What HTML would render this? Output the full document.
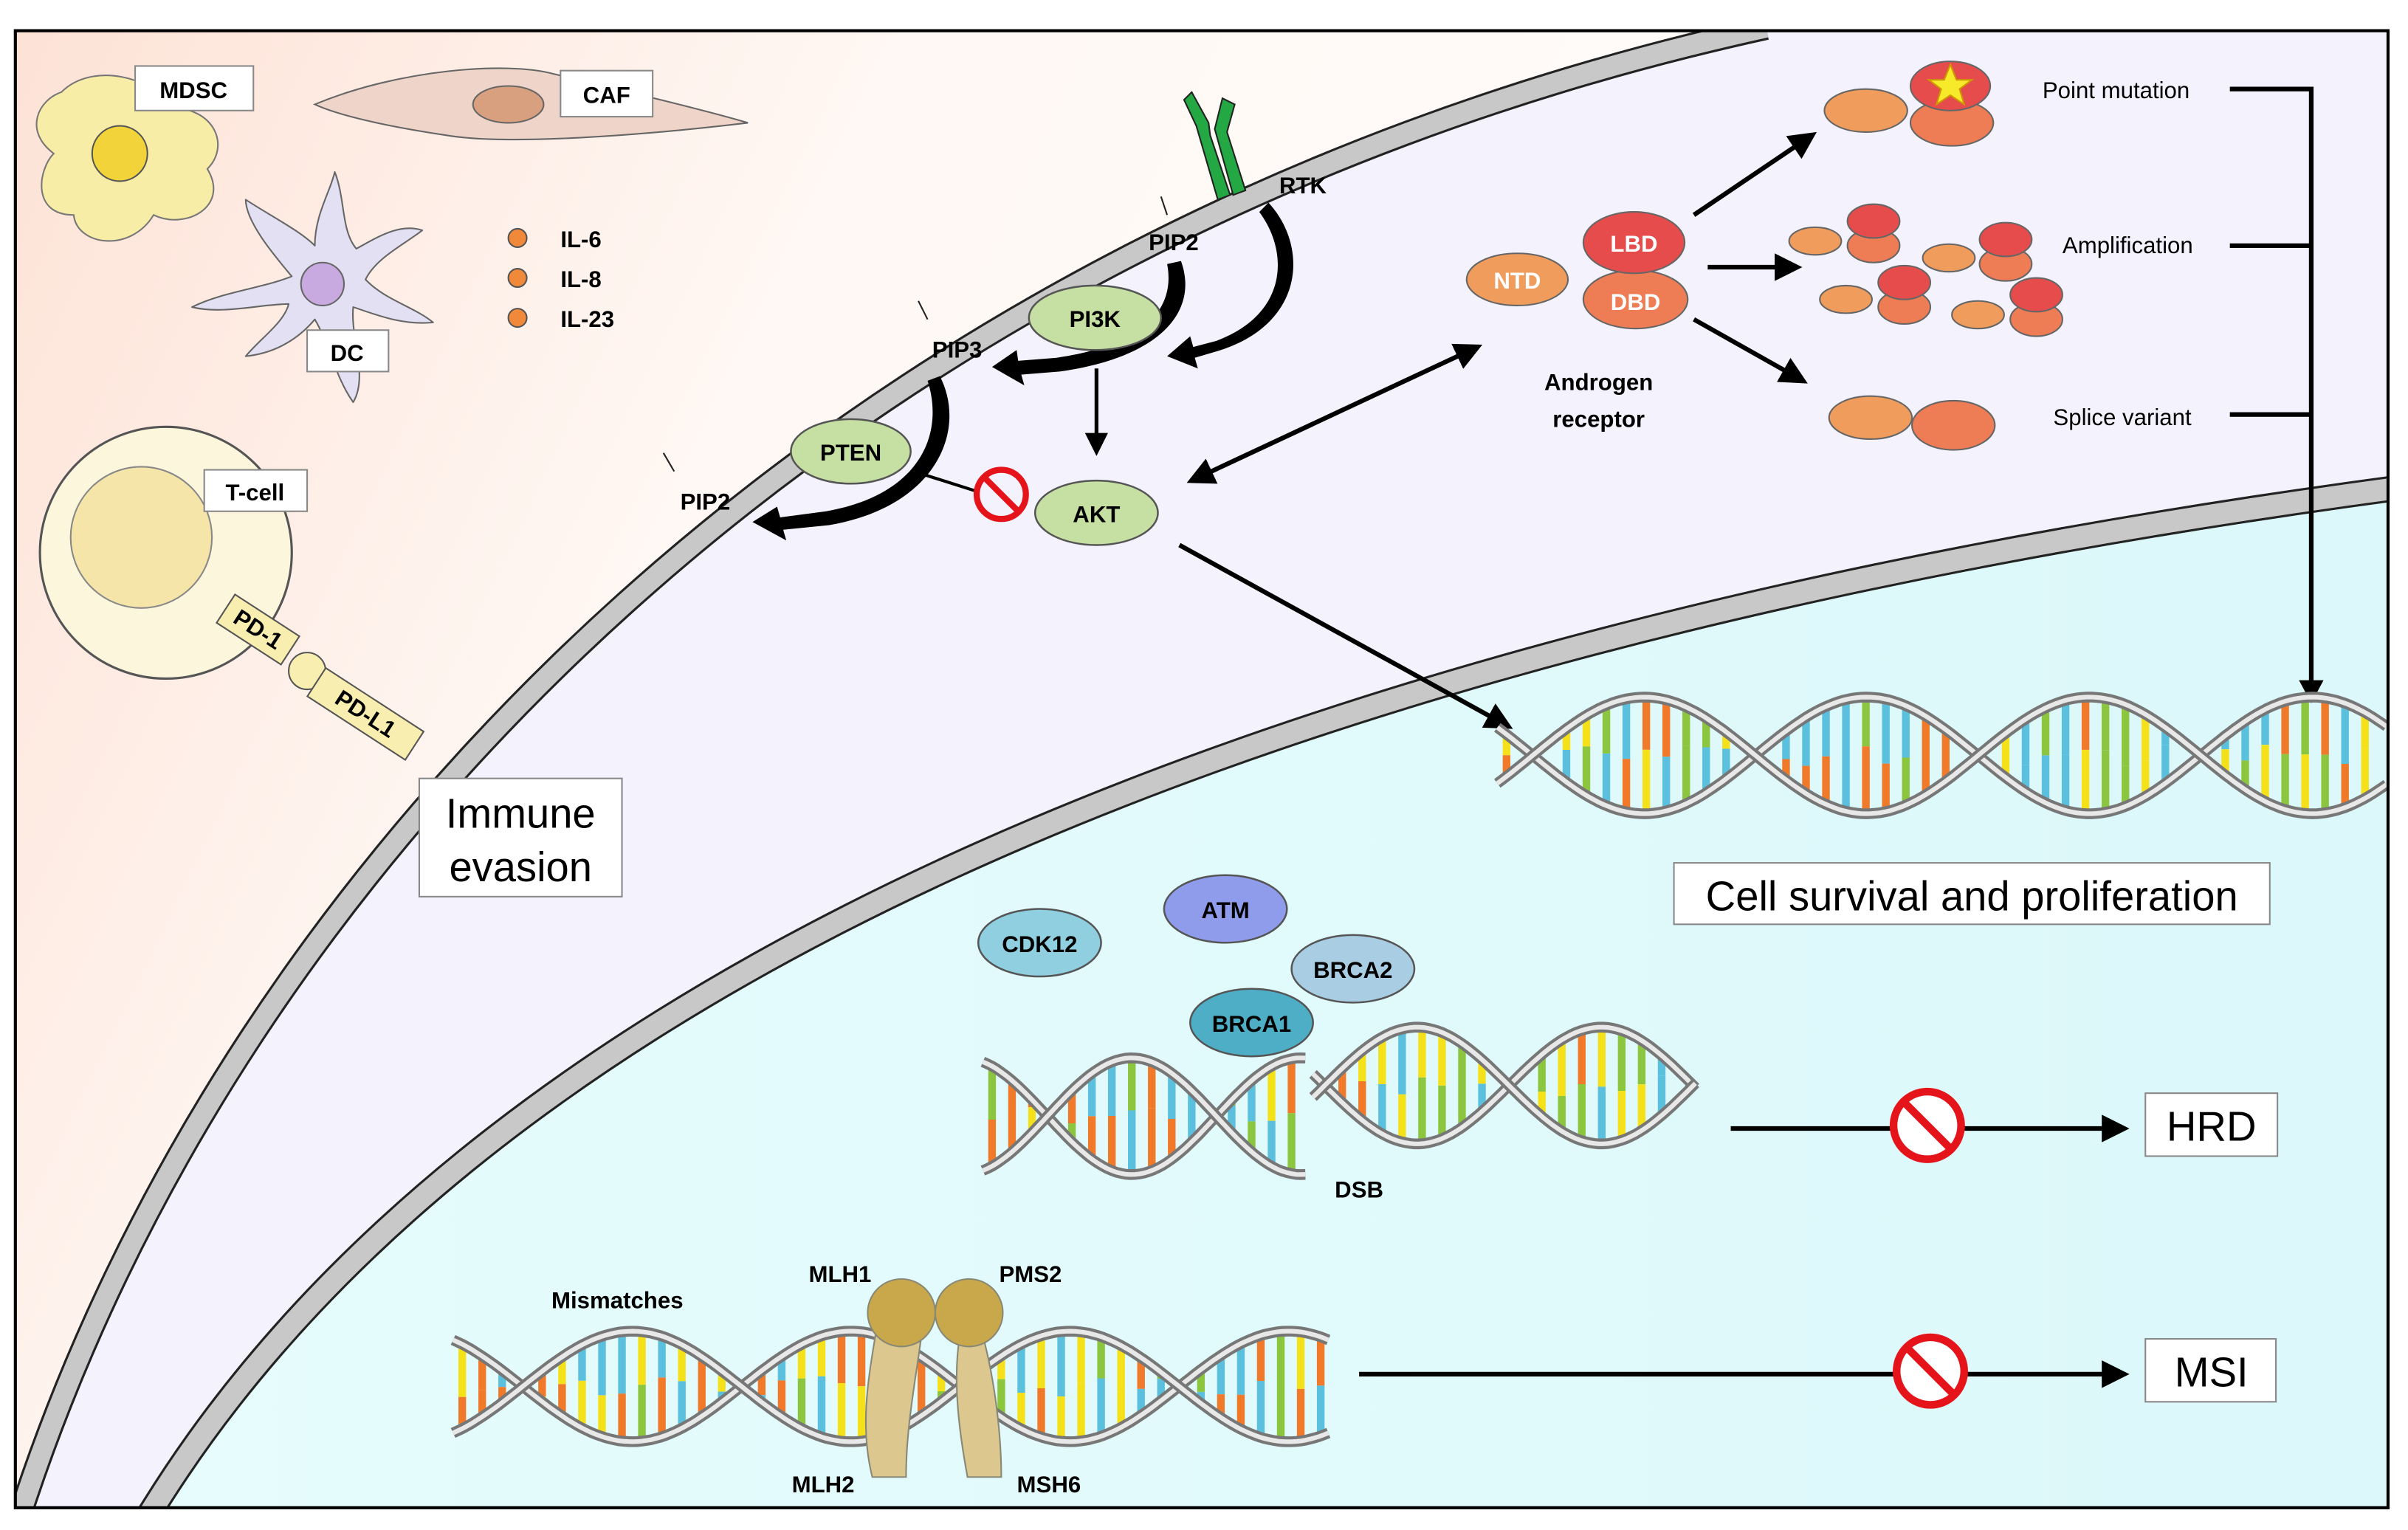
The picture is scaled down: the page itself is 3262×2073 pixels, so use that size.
<!DOCTYPE html>
<html><head><meta charset="utf-8"><style>
html,body{margin:0;padding:0;background:#fff}
svg{display:block}
text{font-family:"Liberation Sans",sans-serif}
.b{font-weight:bold;font-size:15px}
</style></head><body>
<svg id="s" width="3262" height="2073" viewBox="0 0 1568 996.5" preserveAspectRatio="none" xmlns="http://www.w3.org/2000/svg">
<defs>
<linearGradient id="bg" x1="0" y1="0" x2="1" y2="0.3">
<stop offset="0" stop-color="#fde2d6"/><stop offset="0.35" stop-color="#fff8f4"/><stop offset="1" stop-color="#ffffff"/></linearGradient>
<linearGradient id="nu" x1="0" y1="0" x2="1" y2="0"><stop offset="0" stop-color="#e6fcfd"/><stop offset="1" stop-color="#dcf8fa"/></linearGradient>
<marker id="ah" viewBox="0 0 10 10" refX="8" refY="5" markerWidth="6" markerHeight="6" orient="auto-start-reverse"><path d="M0,0 L10,5 L0,10 z" fill="#000"/></marker>
<clipPath id="cp"><rect x="10" y="20" width="1545" height="962"/></clipPath>
</defs>
<g clip-path="url(#cp)">
<rect x="10" y="20" width="1545" height="962" fill="url(#bg)"/>
<path d="M12 990 C150 560 550 150 1150 18 L1555 18 L1555 990 Z" fill="#f3f2fd"/>
<path d="M12 990 C150 560 550 150 1150 18" fill="none" stroke="#222" stroke-width="16"/>
<path d="M12 990 C150 560 550 150 1150 18" fill="none" stroke="#c8c8c8" stroke-width="13"/>
<path d="M95 990 C300 650 800 420 1560 318 L1560 990 Z" fill="url(#nu)"/>
<path d="M95 990 C300 650 800 420 1560 318" fill="none" stroke="#222" stroke-width="17"/>
<path d="M95 990 C300 650 800 420 1560 318" fill="none" stroke="#c8c8c8" stroke-width="14"/>
</g>

<!-- MDSC -->
<path d="M40 60 C60 40 100 50 110 70 C140 70 150 95 135 110 C150 135 120 150 100 140 C85 165 50 160 48 140 C20 140 25 110 35 100 C15 85 25 65 40 60Z" fill="#f8eda6" stroke="#777" stroke-width="1"/>
<circle cx="78" cy="100" r="18" fill="#f2d43a" stroke="#555"/>
<rect x="88" y="43" width="77" height="29" fill="#fff" stroke="#888"/><text x="126" y="64" class="b" text-anchor="middle" font-size="17">MDSC</text>
<!-- CAF -->
<path d="M205 68 C260 45 330 40 360 48 C410 60 460 72 487 80 C420 88 330 95 290 88 C250 82 220 75 205 68Z" fill="#efd5c9" stroke="#666"/>
<ellipse cx="331" cy="68" rx="23" ry="12" fill="#d9a07f" stroke="#666"/>
<rect x="365" y="46" width="60" height="30" fill="#fff" stroke="#888"/><text x="395" y="67" class="b" text-anchor="middle" font-size="17">CAF</text>
<!-- DC -->
<path d="M205 160 C205 140 215 125 218 112 C225 130 222 150 232 162 C245 155 260 145 275 150 C262 160 245 168 238 182 C250 195 270 200 282 210 C262 212 245 205 230 200 C228 220 240 245 230 262 C218 245 215 225 205 208 C195 220 180 230 160 232 C170 220 185 210 188 198 C170 198 145 205 125 200 C145 190 170 188 190 180 C180 168 160 145 160 130 C175 140 195 150 205 160Z" fill="#e4e0f3" stroke="#666" stroke-linejoin="round"/>
<circle cx="210" cy="185" r="14" fill="#c9aae0" stroke="#666"/>
<rect x="200" y="215" width="53" height="27" fill="#fff" stroke="#888"/><text x="226" y="235" class="b" text-anchor="middle" font-size="17">DC</text>
<g fill="#f08a3a" stroke="#555"><circle cx="337" cy="155" r="6"/><circle cx="337" cy="181" r="6"/><circle cx="337" cy="207" r="6"/></g>
<text x="365" y="161" class="b" font-size="17">IL-6</text><text x="365" y="187" class="b" font-size="17">IL-8</text><text x="365" y="213" class="b" font-size="17">IL-23</text>
<!-- T-cell -->
<circle cx="108" cy="360" r="82" fill="#fcf6dc" stroke="#555" stroke-width="1.5"/>
<circle cx="92" cy="350" r="46" fill="#f5e5a8" stroke="#888"/>
<rect x="133" y="306" width="67" height="27" fill="#fff" stroke="#888"/><text x="166" y="326" class="b" text-anchor="middle" font-size="17">T-cell</text>
<g transform="translate(168,410) rotate(33)"><rect x="-25" y="-11" width="50" height="22" fill="#f8eeb0" stroke="#555"/><text x="0" y="5" class="b" text-anchor="middle" font-size="13">PD-1</text></g>
<circle cx="200" cy="437" r="12" fill="#f8eeb0" stroke="#555"/>
<g transform="translate(238,465) rotate(33)"><rect x="-38" y="-11" width="76" height="22" fill="#f8eeb0" stroke="#555"/><text x="0" y="5" class="b" text-anchor="middle" font-size="13">PD-L1</text></g>
<rect x="273" y="507" width="132" height="77" fill="#fff" stroke="#888"/>
<text x="339" y="539" text-anchor="middle" font-size="27">Immune</text><text x="339" y="574" text-anchor="middle" font-size="27">evasion</text>

<!-- RTK -->
<g fill="#23a843" stroke="#222" stroke-width="1">
<path d="M793 130 L801 127 L788 88 L787 80 L776 60 L771 65 L779 82 Z"/>
<path d="M803 127 L811 124 L799 86 L804 68 L796 64 L791 84 Z"/>
</g>
<text x="833" y="126" class="b">RTK</text>
<text x="748" y="163" class="b" font-size="14">PIP2</text>
<text x="607" y="233" class="b" font-size="14">PIP3</text>
<text x="443" y="332" class="b" font-size="14">PIP2</text>
<g stroke="#222"><line x1="756" y1="128" x2="760" y2="140"/><line x1="598" y1="196" x2="604" y2="208"/><line x1="432" y1="295" x2="439" y2="307"/></g>
<g fill="#000">
<path d="M826 132 C852 160 850 210 795 228 L778 233 L780 240 L760 232 L775 219 L777 226 L792 222 C838 205 840 165 820 138 Z"/>
<path d="M769 170 C780 200 760 232 690 242 L665 244 L667 251 L646 239 L662 228 L663 235 L688 233 C750 224 765 198 760 172 Z"/>
<path d="M612 245 C630 280 610 330 540 342 L510 345 L512 352 L490 340 L506 330 L508 337 L538 333 C600 322 615 282 604 248 Z"/>
</g>
<line x1="714" y1="240" x2="714" y2="294" stroke="#000" stroke-width="2.5" marker-end="url(#ah)"/>
<g stroke="#555" stroke-width="1.2" fill="#c6dfa2">
<ellipse cx="713" cy="207" rx="43" ry="21"/><ellipse cx="554" cy="294" rx="39" ry="21"/><ellipse cx="714" cy="334" rx="40" ry="21"/></g>
<text x="713" y="213" class="b" text-anchor="middle">PI3K</text>
<text x="554" y="300" class="b" text-anchor="middle">PTEN</text>
<text x="714" y="340" class="b" text-anchor="middle">AKT</text>
<line x1="595" y1="307" x2="636" y2="320" stroke="#000" stroke-width="2"/>
<g fill="none" stroke="#e5141b" stroke-width="4"><circle cx="652" cy="322" r="16"/><line x1="641" y1="311" x2="663" y2="333"/></g>
<line x1="776" y1="313" x2="962" y2="226" stroke="#000" stroke-width="3" marker-start="url(#ah)" marker-end="url(#ah)"/>
<line x1="768" y1="355" x2="982" y2="473" stroke="#000" stroke-width="3" marker-end="url(#ah)"/>

<!-- AR -->
<ellipse cx="988" cy="182" rx="33" ry="17" fill="#ef9c5c" stroke="#666"/>
<ellipse cx="1065" cy="195" rx="34" ry="19" fill="#ee7c55" stroke="#666"/>
<ellipse cx="1064" cy="158" rx="33" ry="20" fill="#e74c4c" stroke="#666"/>
<text x="988" y="188" class="b" fill="#fff" text-anchor="middle">NTD</text>
<text x="1064" y="164" class="b" fill="#fff" text-anchor="middle">LBD</text>
<text x="1065" y="202" class="b" fill="#fff" text-anchor="middle">DBD</text>
<text x="1041" y="254" class="b" font-size="17" text-anchor="middle">Androgen</text>
<text x="1041" y="278" class="b" font-size="17" text-anchor="middle">receptor</text>
<g stroke="#000" stroke-width="3" marker-end="url(#ah)">
<line x1="1103" y1="140" x2="1180" y2="88"/><line x1="1112" y1="174" x2="1170" y2="174"/><line x1="1103" y1="208" x2="1174" y2="248"/></g>
<g id="ars" stroke="#666"></g>
<text x="1330" y="64" font-size="15">Point mutation</text>
<text x="1343" y="165" font-size="15">Amplification</text>
<text x="1337" y="277" font-size="15">Splice variant</text>
<g stroke="#000" stroke-width="3" fill="none"><path d="M1452 58 H1505 V445"/><line x1="1452" y1="160" x2="1505" y2="160"/><line x1="1452" y1="270" x2="1505" y2="270"/></g>
<path d="M1497 443 L1505 458 L1513 443Z" fill="#000"/>

<g id="dna" clip-path="url(#cp)"></g>
<rect x="1090" y="562" width="388" height="40" fill="#fff" stroke="#888"/>
<text x="1284" y="593" text-anchor="middle" font-size="27">Cell survival and proliferation</text>

<g stroke="#555" stroke-width="1.2">
<ellipse cx="677" cy="614" rx="40" ry="22" fill="#8fcfe0"/><ellipse cx="798" cy="592" rx="40" ry="22" fill="#8f9ceb"/>
<ellipse cx="881" cy="631" rx="40" ry="22" fill="#a9cde2"/><ellipse cx="815" cy="666" rx="40" ry="22" fill="#4daec6"/></g>
<text x="677" y="620" class="b" text-anchor="middle">CDK12</text><text x="798" y="598" class="b" text-anchor="middle">ATM</text>
<text x="881" y="637" class="b" text-anchor="middle">BRCA2</text><text x="815" y="672" class="b" text-anchor="middle">BRCA1</text>
<text x="885" y="780" class="b" text-anchor="middle" font-size="16">DSB</text>

<line x1="1127" y1="735" x2="1383" y2="735" stroke="#000" stroke-width="3" marker-end="url(#ah)"/>
<g fill="#fff" stroke="#e5141b" stroke-width="5"><circle cx="1255" cy="733" r="22"/><line x1="1240" y1="718" x2="1270" y2="748"/></g>
<rect x="1397" y="712" width="86" height="41" fill="#fff" stroke="#888"/><text x="1440" y="743" text-anchor="middle" font-size="27">HRD</text>
<line x1="885" y1="895" x2="1383" y2="895" stroke="#000" stroke-width="3" marker-end="url(#ah)"/>
<g fill="#fff" stroke="#e5141b" stroke-width="5"><circle cx="1257" cy="893" r="22"/><line x1="1242" y1="878" x2="1272" y2="908"/></g>
<rect x="1397" y="872" width="85" height="41" fill="#fff" stroke="#888"/><text x="1440" y="903" text-anchor="middle" font-size="27">MSI</text>

<text x="402" y="852" class="b" font-size="17" text-anchor="middle">Mismatches</text>
<text x="547" y="835" class="b" font-size="17" text-anchor="middle">MLH1</text>
<text x="671" y="835" class="b" font-size="17" text-anchor="middle">PMS2</text>
<text x="536" y="972" class="b" font-size="17" text-anchor="middle">MLH2</text>
<text x="683" y="972" class="b" font-size="17" text-anchor="middle">MSH6</text>
<g id="mmr"></g>
<rect x="10" y="20" width="1545" height="962" fill="none" stroke="#000" stroke-width="2"/>
</svg>
<script>
var NS="http://www.w3.org/2000/svg";
function el(p,t,a){var e=document.createElementNS(NS,t);for(var k in a)e.setAttribute(k,a[k]);p.appendChild(e);return e;}
var cols=["#f07a2a","#5bc0de","#f5e11a","#8cc63f"];var seed=7;
function rnd(){seed=(seed*9301+49297)%233280;return seed/233280;}
function helix(g,x0,x1,yc,A,P,ph){
 function y(x,o){return yc+A*Math.sin(2*Math.PI*(x-x0)/P+ph+o);}
 for(var x=x0+6;x<x1-4;x+=13){var a=y(x,0),b=y(x,Math.PI);if(Math.abs(a-b)<18)continue;
  var m=(a+b)/2+(rnd()-0.5)*14;el(g,"line",{x1:x,y1:a,x2:x,y2:m,stroke:cols[Math.floor(rnd()*4)],"stroke-width":5});
  el(g,"line",{x1:x,y1:m,x2:x,y2:b,stroke:cols[Math.floor(rnd()*4)],"stroke-width":5});}
 [0,Math.PI].forEach(function(o){var d="";for(var x=x0;x<=x1;x+=3)d+=(d?"L":"M")+x+" "+y(x,o).toFixed(1);
  el(g,"path",{d:d,fill:"none",stroke:"#777","stroke-width":7});el(g,"path",{d:d,fill:"none",stroke:"#e8e8e8","stroke-width":3});});}
var g=document.getElementById("dna");
helix(g,975,1555,492,38,290,-0.5);
helix(g,640,850,727,38,220,-1.2);
helix(g,855,1105,707,38,240,-0.2);
helix(g,295,865,903,36,285,-1.0);
var a=document.getElementById("ars");
function e(cx,cy,rx,ry,f){el(a,"ellipse",{cx:cx,cy:cy,rx:rx,ry:ry,fill:f});}
e(1215,72,27,14,"#ef9c5c");e(1271,80,27,15,"#ee7c55");e(1270,56,26,16,"#e74c4c");
el(a,"path",{d:"M1270 42 L1274 52 L1284 52 L1276 58 L1279 68 L1270 62 L1261 68 L1264 58 L1256 52 L1266 52Z",fill:"#f7ea2a",stroke:"#c90"});
[[1182,157,1220,150],[1202,195,1240,190],[1269,168,1306,162],[1288,205,1326,198]].forEach(function(p){
 e(p[0],p[1],17,9,"#ef9c5c");e(p[2],p[3]+10,17,11,"#ee7c55");e(p[2],p[3]-6,17,11,"#e74c4c");});
e(1218,272,27,14,"#ef9c5c");e(1272,277,27,16,"#ee7c55");
var m=document.getElementById("mmr");
el(m,"path",{d:"M570 870 C565 900 560 930 568 962 L590 962 C590 930 596 900 600 870Z",fill:"#dcc78e",stroke:"#887"});
el(m,"path",{d:"M625 870 C620 900 625 935 630 962 L652 962 C652 935 648 900 640 870Z",fill:"#dcc78e",stroke:"#887"});
el(m,"circle",{cx:587,cy:855,r:22,fill:"#c8a84a",stroke:"#887"});
el(m,"circle",{cx:631,cy:855,r:22,fill:"#c8a84a",stroke:"#887"});
</script>
</body></html>
